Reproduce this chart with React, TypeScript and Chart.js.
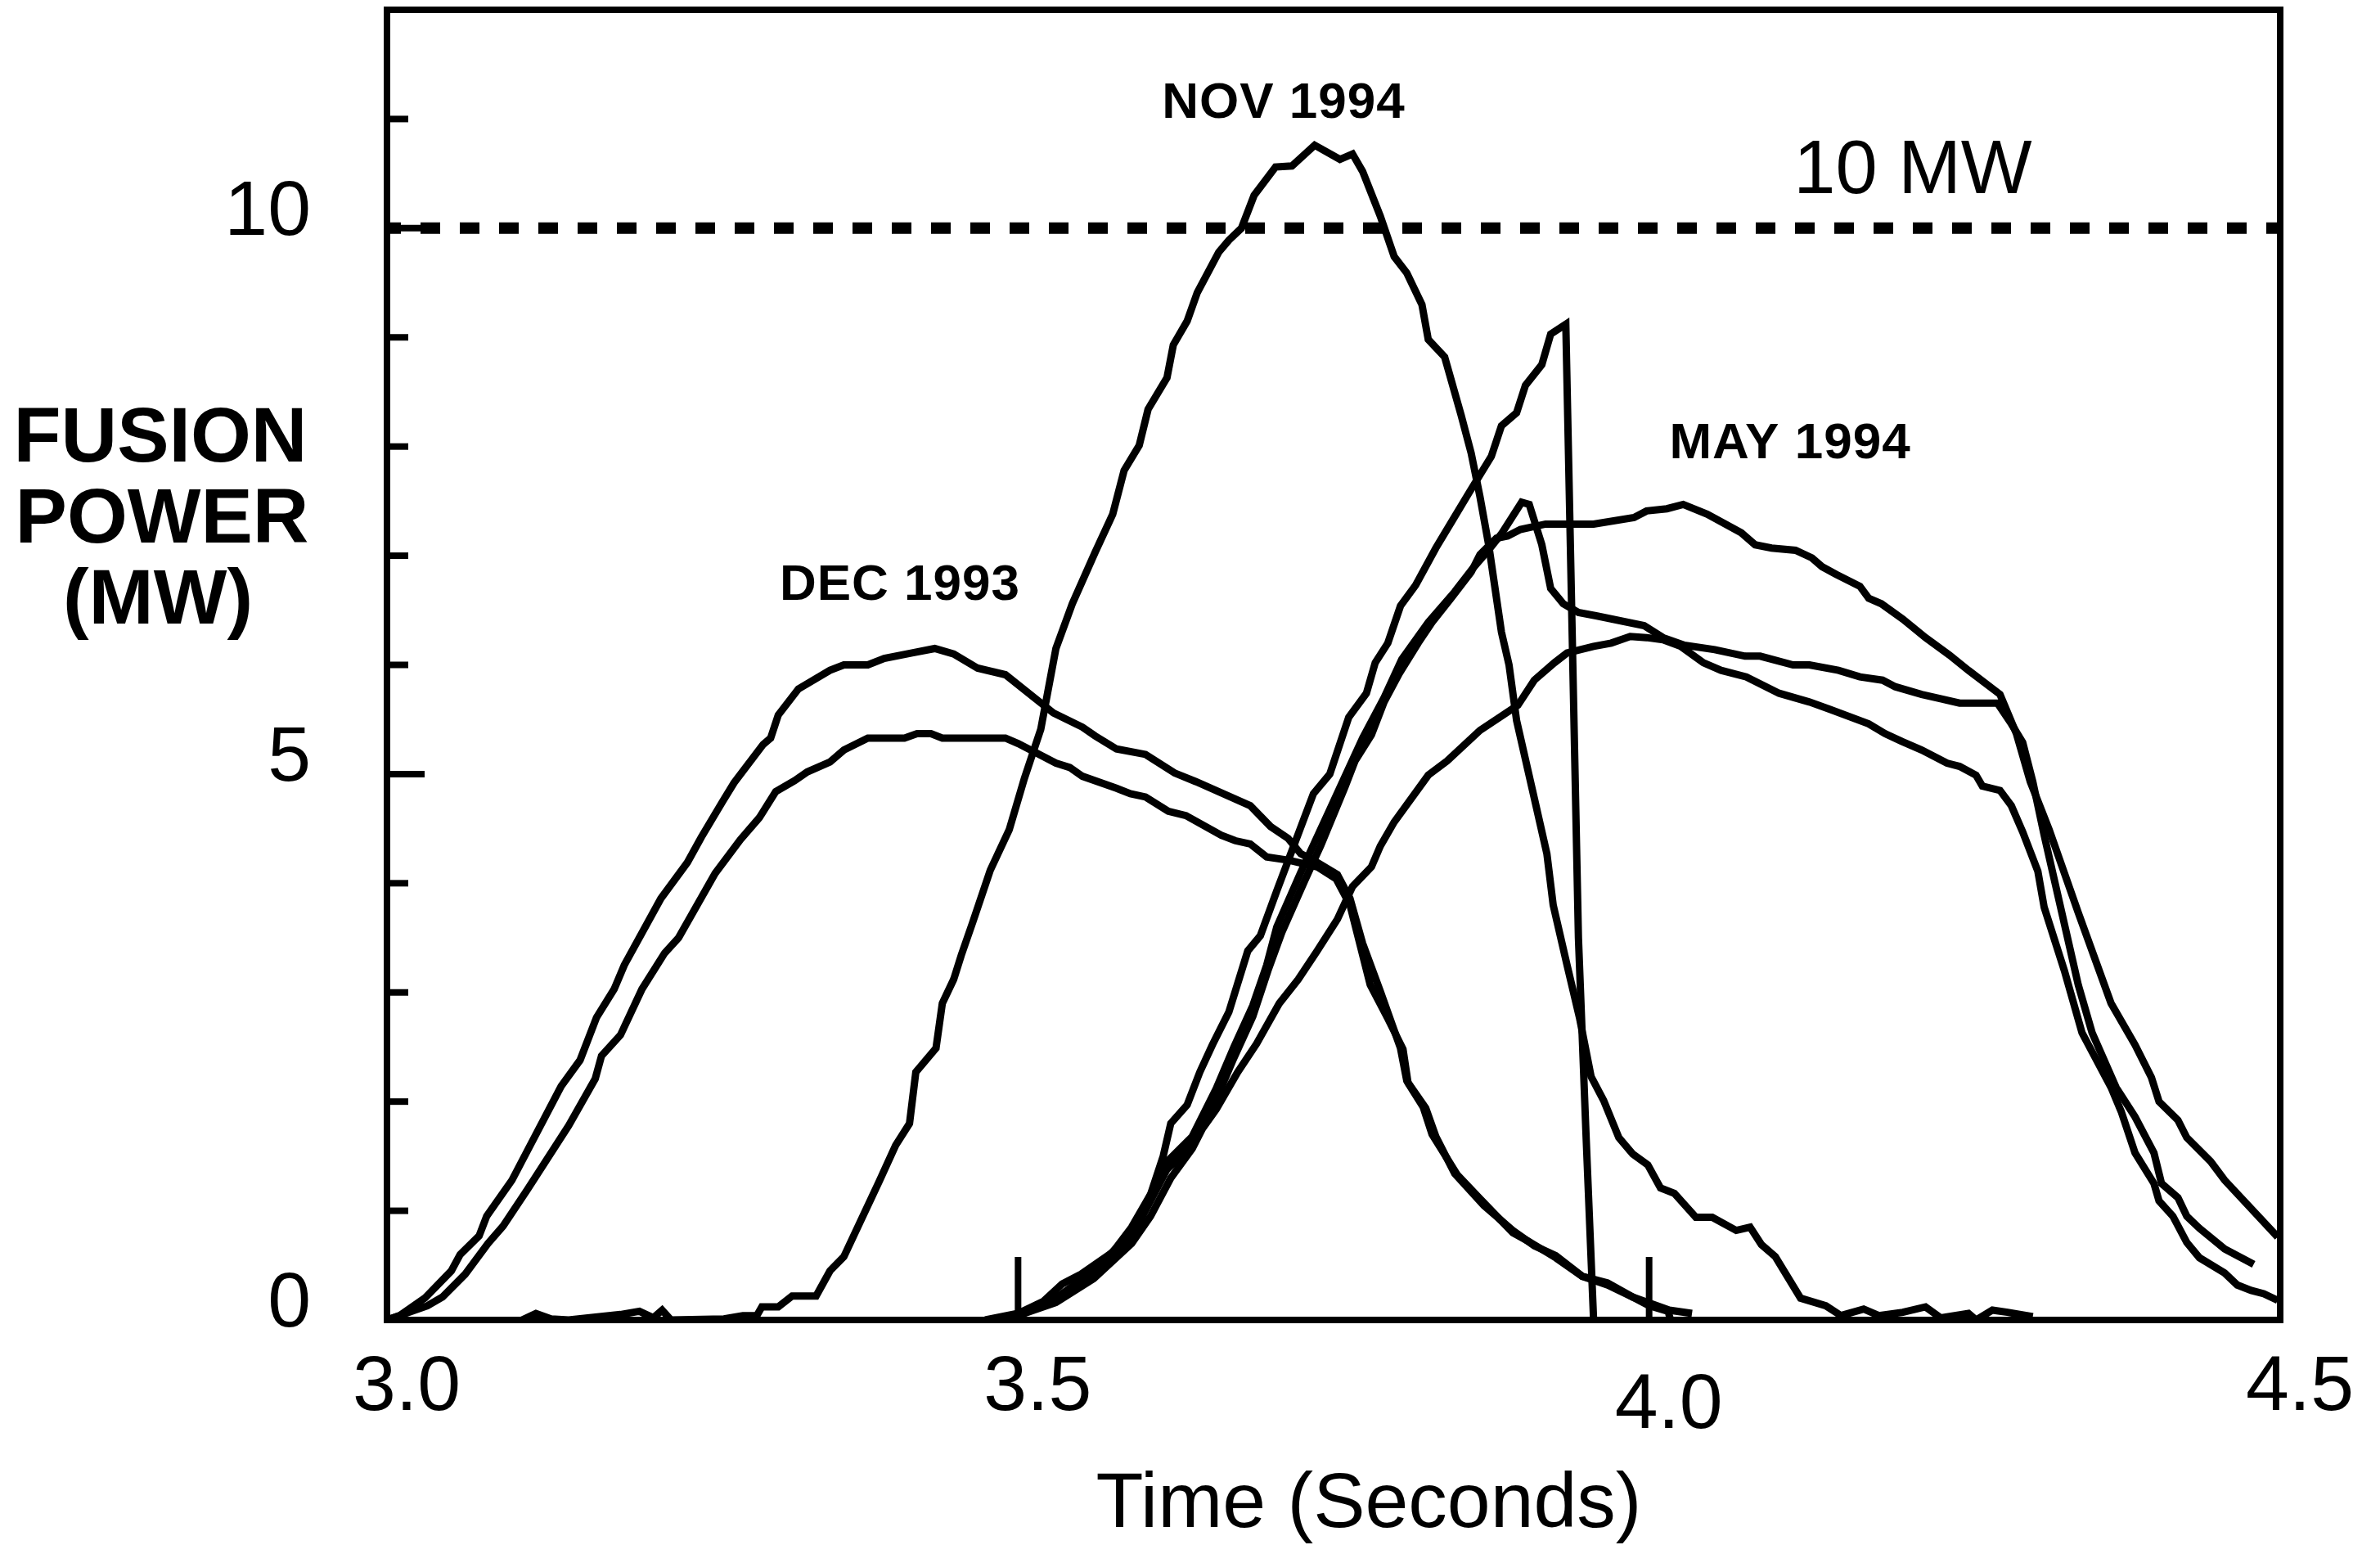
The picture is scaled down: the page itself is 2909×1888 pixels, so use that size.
import React, { useEffect, useRef } from "react";
import { Chart, registerables } from "chart.js";

Chart.register(...registerables);

// ---- axis / tick data ----
const xMin = 3.0;
const xMax = 4.5;
const yMin = 0;
const yMax = 12;
const xTickValues = [3.0, 3.5, 4.0, 4.5];
const xTickLabels = ["3.0", "3.5", "4.0", "4.5"];
const xInnerTicks = [3.5, 4.0];
const yLabelValues = [0, 5, 10];
const yTickLabels = ["0", "5", "10"];
const yMinorTicks = [1, 2, 3, 4, 6, 7, 8, 9, 11];
const yMajorTicks = [5, 10];
const refLevel = 10;

// ---- series (time s, fusion power MW) ----
const dec1993Upper: [number, number][] = [
  [3.0, 0], [3.01, 0.04], [3.03, 0.2], [3.051, 0.45], [3.058, 0.6], [3.073, 0.77], [3.079, 0.95],
  [3.099, 1.28], [3.138, 2.14], [3.153, 2.38], [3.166, 2.77], [3.18, 3.03], [3.188, 3.25],
  [3.217, 3.86], [3.238, 4.19], [3.249, 4.42], [3.266, 4.75], [3.275, 4.92], [3.298, 5.27],
  [3.304, 5.33], [3.31, 5.54], [3.326, 5.78], [3.351, 5.95], [3.362, 6.0], [3.381, 6.0],
  [3.394, 6.06], [3.416, 6.11], [3.434, 6.15], [3.449, 6.1], [3.468, 5.97], [3.49, 5.91],
  [3.528, 5.56], [3.551, 5.43], [3.561, 5.35], [3.578, 5.23], [3.601, 5.18], [3.624, 5.01],
  [3.641, 4.93], [3.684, 4.71], [3.7, 4.52], [3.714, 4.41], [3.724, 4.27], [3.737, 4.19],
  [3.753, 4.08], [3.763, 3.86], [3.773, 3.45], [3.787, 3.01], [3.803, 2.49], [3.808, 2.19],
  [3.823, 1.94], [3.831, 1.68], [3.846, 1.34], [3.869, 1.05], [3.892, 0.82], [3.909, 0.68],
  [3.926, 0.59], [3.947, 0.4], [3.967, 0.34], [3.987, 0.21], [4.0, 0.13], [4.015, 0.08], [4.017, 0.0],
];

const dec1993Lower: [number, number][] = [
  [3.0, 0], [3.032, 0.13], [3.044, 0.21], [3.062, 0.42], [3.08, 0.7], [3.092, 0.86], [3.111, 1.19],
  [3.144, 1.78], [3.165, 2.21], [3.17, 2.42], [3.185, 2.61], [3.202, 3.03], [3.22, 3.36],
  [3.231, 3.5], [3.26, 4.09], [3.28, 4.4], [3.295, 4.6], [3.308, 4.84], [3.323, 4.94],
  [3.333, 5.02], [3.351, 5.11], [3.362, 5.22], [3.381, 5.33], [3.41, 5.33], [3.42, 5.37],
  [3.431, 5.37], [3.44, 5.33], [3.49, 5.33], [3.5, 5.28], [3.515, 5.19], [3.53, 5.1],
  [3.541, 5.06], [3.551, 4.98], [3.578, 4.87], [3.589, 4.82], [3.601, 4.79], [3.619, 4.66],
  [3.633, 4.62], [3.661, 4.44], [3.672, 4.39], [3.684, 4.36], [3.697, 4.24], [3.715, 4.21],
  [3.737, 4.15], [3.752, 4.04], [3.763, 3.8], [3.779, 3.07], [3.793, 2.76], [3.805, 2.48],
  [3.809, 2.17], [3.821, 1.95], [3.828, 1.7], [3.848, 1.33], [3.866, 1.11], [3.892, 0.8],
  [3.906, 0.71], [3.926, 0.57], [3.947, 0.4], [3.967, 0.32], [3.987, 0.21], [4.016, 0.09], [4.034, 0.06],
];

const nov1994: [number, number][] = [
  [3.107, 0], [3.118, 0.06], [3.13, 0.01], [3.144, 0], [3.185, 0.05], [3.2, 0.08], [3.211, 0.02],
  [3.218, 0.09], [3.225, 0], [3.267, 0.01], [3.282, 0.04], [3.293, 0.04], [3.297, 0.12],
  [3.31, 0.12], [3.321, 0.22], [3.34, 0.22], [3.351, 0.45], [3.362, 0.58], [3.375, 0.9],
  [3.39, 1.27], [3.403, 1.6], [3.414, 1.8], [3.419, 2.27], [3.435, 2.49], [3.44, 2.9],
  [3.449, 3.12], [3.455, 3.34], [3.464, 3.64], [3.478, 4.12], [3.493, 4.49], [3.505, 4.96],
  [3.518, 5.41], [3.53, 6.15], [3.543, 6.56], [3.561, 7.03], [3.575, 7.38], [3.584, 7.78],
  [3.596, 8.01], [3.603, 8.34], [3.618, 8.63], [3.623, 8.93], [3.634, 9.15], [3.642, 9.41],
  [3.659, 9.78], [3.667, 9.89], [3.677, 10.0], [3.687, 10.3], [3.704, 10.56], [3.717, 10.57],
  [3.735, 10.76], [3.755, 10.63], [3.765, 10.68], [3.773, 10.52], [3.787, 10.11], [3.798, 9.74],
  [3.808, 9.59], [3.82, 9.3], [3.825, 8.98], [3.838, 8.82], [3.851, 8.29], [3.859, 7.94],
  [3.866, 7.54], [3.873, 7.09], [3.883, 6.3], [3.889, 6.0], [3.895, 5.49], [3.909, 4.78],
  [3.919, 4.27], [3.924, 3.8], [3.935, 3.25], [3.945, 2.76], [3.954, 2.23], [3.964, 2.01],
  [3.976, 1.67], [3.987, 1.52], [3.999, 1.42], [4.009, 1.21], [4.02, 1.16], [4.037, 0.94],
  [4.05, 0.94], [4.069, 0.82], [4.08, 0.85], [4.089, 0.69], [4.1, 0.58], [4.12, 0.2],
  [4.14, 0.13], [4.152, 0.04], [4.17, 0.1], [4.182, 0.04], [4.201, 0.07], [4.219, 0.12],
  [4.231, 0.02], [4.253, 0.06], [4.259, 0], [4.272, 0.09], [4.284, 0.07], [4.304, 0.03],
];

const may1994Disrupt: [number, number][] = [
  [3.474, 0], [3.5, 0.06], [3.52, 0.17], [3.535, 0.33], [3.55, 0.42], [3.575, 0.62], [3.59, 0.85],
  [3.605, 1.15], [3.615, 1.5], [3.621, 1.8], [3.634, 1.97], [3.644, 2.27], [3.654, 2.52],
  [3.667, 2.82], [3.682, 3.38], [3.692, 3.52], [3.705, 3.93], [3.734, 4.82], [3.747, 5.0],
  [3.762, 5.52], [3.776, 5.74], [3.783, 6.02], [3.793, 6.2], [3.803, 6.54], [3.815, 6.73],
  [3.831, 7.07], [3.844, 7.32], [3.857, 7.57], [3.875, 7.91], [3.883, 8.19], [3.895, 8.31],
  [3.902, 8.56], [3.915, 8.75], [3.922, 9.03], [3.934, 9.12], [3.944, 3.5], [3.95, 1.7], [3.956, 0],
];

const may1994B: [number, number][] = [
  [3.48, 0], [3.5, 0.05], [3.53, 0.2], [3.56, 0.45], [3.59, 0.8], [3.618, 1.45], [3.638, 1.68],
  [3.657, 2.12], [3.671, 2.5], [3.686, 2.88], [3.697, 3.25], [3.705, 3.6], [3.724, 4.1],
  [3.748, 4.7], [3.773, 5.33], [3.79, 5.7], [3.804, 6.05], [3.825, 6.39], [3.846, 6.67],
  [3.86, 6.88], [3.872, 7.04], [3.883, 7.2], [3.899, 7.49], [3.905, 7.47], [3.915, 7.1],
  [3.922, 6.7], [3.932, 6.56], [3.944, 6.48], [3.958, 6.45], [3.996, 6.36], [4.011, 6.25],
  [4.028, 6.18], [4.052, 6.14], [4.076, 6.08], [4.088, 6.08], [4.114, 6.0], [4.127, 6.0],
  [4.15, 5.95], [4.167, 5.89], [4.185, 5.86], [4.195, 5.8], [4.216, 5.73], [4.231, 5.69],
  [4.246, 5.65], [4.276, 5.65], [4.287, 5.46], [4.296, 5.29], [4.304, 4.93], [4.313, 4.44],
  [4.34, 3.07], [4.351, 2.63], [4.37, 2.13], [4.385, 1.86], [4.4, 1.53], [4.406, 1.25],
  [4.419, 1.12], [4.426, 0.95], [4.436, 0.84], [4.456, 0.65], [4.479, 0.51],
];

const may1994C: [number, number][] = [
  [3.48, 0], [3.5, 0.04], [3.53, 0.18], [3.56, 0.42], [3.59, 0.76], [3.618, 1.38], [3.638, 1.6],
  [3.657, 2.02], [3.671, 2.4], [3.686, 2.78], [3.698, 3.2], [3.709, 3.55], [3.727, 4.02],
  [3.74, 4.35], [3.759, 4.88], [3.767, 5.12], [3.78, 5.36], [3.79, 5.66], [3.802, 5.92],
  [3.817, 6.2], [3.828, 6.39], [3.843, 6.61], [3.859, 6.85], [3.866, 7.01], [3.879, 7.16],
  [3.888, 7.18], [3.898, 7.24], [3.906, 7.26], [3.918, 7.29], [3.956, 7.29], [3.988, 7.35],
  [3.998, 7.41], [4.014, 7.43], [4.027, 7.47], [4.046, 7.38], [4.073, 7.21], [4.084, 7.1],
  [4.097, 7.07], [4.116, 7.05], [4.129, 6.98], [4.137, 6.9], [4.148, 6.83], [4.167, 6.72],
  [4.174, 6.61], [4.184, 6.56], [4.201, 6.42], [4.219, 6.25], [4.238, 6.09], [4.253, 5.95],
  [4.278, 5.73], [4.291, 5.37], [4.302, 4.93], [4.317, 4.49], [4.34, 3.73], [4.366, 2.9],
  [4.385, 2.52], [4.398, 2.22], [4.404, 2.0], [4.419, 1.83], [4.426, 1.67], [4.445, 1.45],
  [4.456, 1.28], [4.498, 0.76],
];

const may1994D: [number, number][] = [
  [3.48, 0], [3.5, 0.04], [3.53, 0.16], [3.56, 0.38], [3.59, 0.7], [3.605, 0.95], [3.621, 1.3],
  [3.638, 1.57], [3.646, 1.75], [3.657, 1.93], [3.674, 2.27], [3.689, 2.53], [3.707, 2.9],
  [3.722, 3.12], [3.737, 3.38], [3.753, 3.67], [3.765, 3.97], [3.78, 4.15], [3.787, 4.34],
  [3.798, 4.56], [3.825, 4.99], [3.84, 5.12], [3.866, 5.4], [3.896, 5.63], [3.909, 5.86],
  [3.925, 6.02], [3.935, 6.11], [3.956, 6.17], [3.97, 6.2], [3.985, 6.26], [3.998, 6.25],
  [4.011, 6.23], [4.025, 6.17], [4.043, 6.02], [4.057, 5.95], [4.077, 5.89], [4.103, 5.74],
  [4.127, 5.66], [4.144, 5.59], [4.174, 5.46], [4.187, 5.37], [4.2, 5.3], [4.216, 5.22],
  [4.236, 5.1], [4.246, 5.07], [4.259, 4.99], [4.264, 4.89], [4.278, 4.85], [4.287, 4.71],
  [4.296, 4.47], [4.308, 4.11], [4.313, 3.78], [4.329, 3.2], [4.343, 2.63], [4.366, 2.13],
  [4.374, 1.91], [4.385, 1.53], [4.4, 1.25], [4.404, 1.09], [4.415, 0.95], [4.426, 0.71],
  [4.436, 0.57], [4.456, 0.43], [4.466, 0.32], [4.477, 0.27], [4.487, 0.24], [4.498, 0.18],
];

const seriesList = [dec1993Upper, dec1993Lower, nov1994, may1994Disrupt, may1994B, may1994C, may1994D];

const W = 2909;
const H = 1888;
const FONT = '"Liberation Sans", Arial, Helvetica, sans-serif';

const decorations = {
  id: "decorations",
  afterDatasetsDraw(chart: any) {
    const { ctx, chartArea: a, scales } = chart;
    const xs = scales.x;
    const ys = scales.y;
    ctx.save();
    ctx.strokeStyle = "#000";
    ctx.fillStyle = "#000";
    ctx.lineCap = "butt";

    // frame
    ctx.lineWidth = 8;
    ctx.strokeRect(a.left, a.top, a.right - a.left, a.bottom - a.top);

    // inner y ticks
    const hLine = (x1: number, y: number, x2: number) => {
      ctx.beginPath();
      ctx.moveTo(x1, y);
      ctx.lineTo(x2, y);
      ctx.stroke();
    };
    ctx.lineWidth = 8;
    yMinorTicks.forEach((v) => hLine(a.left, ys.getPixelForValue(v), a.left + 26));
    yMajorTicks.forEach((v) => hLine(a.left, ys.getPixelForValue(v), a.left + 46));

    // inner x ticks
    xInnerTicks.forEach((v) => {
      const x = xs.getPixelForValue(v);
      ctx.beginPath();
      ctx.moveTo(x, a.bottom);
      ctx.lineTo(x, a.bottom - 77);
      ctx.stroke();
    });

    // y tick labels
    ctx.font = `95px ${FONT}`;
    ctx.textAlign = "right";
    ctx.textBaseline = "alphabetic";
    yTickLabels.forEach((t, i) => {
      ctx.fillText(t, a.left - 93, ys.getPixelForValue(yLabelValues[i]) + 8);
    });

    // x tick labels
    ctx.textAlign = "center";
    xTickLabels.forEach((t, i) => {
      const x = xs.getPixelForValue(xTickValues[i]) + 24;
      const drop = t === "4.0" ? 22 : 0;
      ctx.fillText(t, x, a.bottom + 110 + drop);
    });

    // x axis title
    ctx.fillText("Time (Seconds)", 1673, 1866);

    // y axis title
    ctx.font = `bold 95px ${FONT}`;
    ctx.textAlign = "center";
    ctx.fillText("FUSION", 196, 564);
    ctx.fillText("POWER", 198, 663);
    ctx.fillText("(MW)", 193, 762);

    // annotations
    ctx.font = `bold 62px ${FONT}`;
    (ctx as any).letterSpacing = "1px";
    ctx.fillText("NOV 1994", 1569, 144);
    ctx.fillText("DEC 1993", 1100, 733);
    ctx.fillText("MAY 1994", 2188, 560);
    (ctx as any).letterSpacing = "0px";

    ctx.font = `92px ${FONT}`;
    ctx.fillText("10 MW", 2338, 236);

    ctx.restore();
  },
};

export default function App() {
  const canvasRef = useRef<HTMLCanvasElement | null>(null);

  useEffect(() => {
    const canvas = canvasRef.current;
    if (!canvas) return;

    const curveSets = seriesList.map((s) => ({
      data: s.map(([x, y]) => ({ x, y })),
      borderColor: "#000",
      borderWidth: 9,
      pointRadius: 0,
      showLine: true,
      fill: false,
      tension: 0,
      borderJoinStyle: "miter" as const,
      borderCapStyle: "butt" as const,
    }));

    const refSet = {
      data: [
        { x: xMin, y: refLevel },
        { x: xMax, y: refLevel },
      ],
      borderColor: "#000",
      borderWidth: 14,
      borderDash: [24, 24],
      borderDashOffset: 7,
      borderCapStyle: "butt" as const,
      pointRadius: 0,
      showLine: true,
      fill: false,
    };

    const chart = new Chart(canvas, {
      type: "scatter",
      data: { datasets: [refSet, ...curveSets] as any },
      options: {
        animation: false,
        responsive: false,
        devicePixelRatio: 1,
        events: [],
        layout: { padding: { left: 473, right: W - 2787, top: 12, bottom: H - 1613 } },
        plugins: { legend: { display: false }, tooltip: { enabled: false } },
        scales: {
          x: { type: "linear", min: xMin, max: xMax, display: false },
          y: { type: "linear", min: yMin, max: yMax, display: false },
        },
      },
      plugins: [decorations],
    });

    return () => chart.destroy();
  }, []);

  return (
    <canvas
      ref={canvasRef}
      width={W}
      height={H}
      style={{ position: "absolute", left: 0, top: 0, width: `${W}px`, height: `${H}px`, background: "#fff" }}
    />
  );
}
